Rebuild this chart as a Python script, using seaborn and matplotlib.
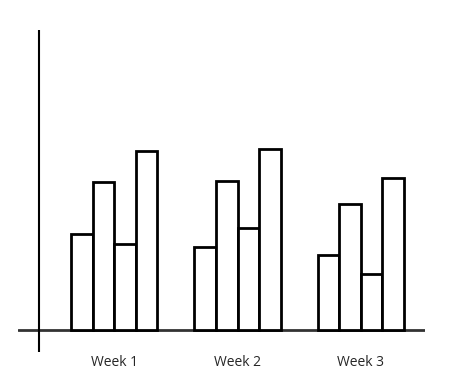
import pandas as pd
import numpy as np
import seaborn as sns
import matplotlib.pyplot as plt

# Data (arbitrary units)
weeks = ['Week 1', 'Week 2', 'Week 3']
series_names = ['S1', 'S2', 'S3', 'S4']
s1 = [96, 83, 75]
s2 = [148, 149, 126]
s3 = [86, 102, 56]
s4 = [179, 181, 152]

df = pd.DataFrame({
    'week': weeks * 4,
    'series': np.repeat(series_names, 3),
    'value': s1 + s2 + s3 + s4,
})

sns.set_style('white')
plt.rcParams['font.family'] = ['Open Sans', 'DejaVu Sans']

fig = plt.figure(figsize=(4.66, 3.77), dpi=100)
ax = fig.add_axes([18 / 466, 25 / 377, 407 / 466, 322 / 377])

sns.barplot(data=df, x='week', y='value', hue='series',
            palette=['white'] * 4, edgecolor='black', linewidth=2,
            width=0.70, gap=0.0, legend=False, ax=ax)

ax.set_xlim(-0.78, 2.52)
ax.set_ylim(-22, 300)

# hand drawn style axes
ax.axhline(0, color='#333333', lw=2, zorder=0)
ax.axvline(-0.61, color='black', lw=1.5, zorder=0)

for s in ax.spines.values():
    s.set_visible(False)

ax.set_yticks([])
ax.tick_params(axis='x', length=0, pad=2, labelsize=10)
ax.set_xlabel('')
ax.set_ylabel('')

fig.savefig('out.png', dpi=100)
